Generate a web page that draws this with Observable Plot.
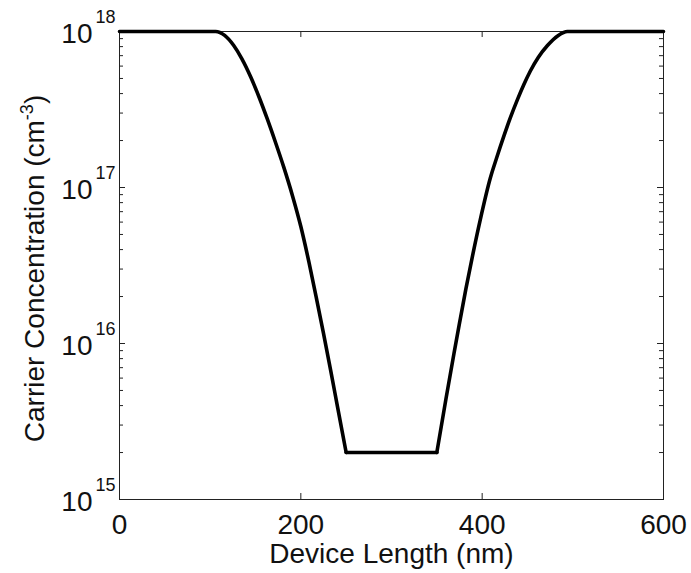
<!DOCTYPE html>
<html>
<head>
<meta charset="utf-8">
<script src="https://cdn.jsdelivr.net/npm/d3@7"></script>
<script src="https://cdn.jsdelivr.net/npm/@observablehq/plot@0.6"></script>
<style>
  html, body { margin: 0; padding: 0; background: #fff; }
  #chart { width: 691px; height: 573px; }
</style>
</head>
<body>
<div id="chart"></div>
<script>
// Device position (nm) and carrier concentration (cm^-3)
const positionNm = [0, 106, 116, 126, 135, 145, 154, 163, 172, 181, 191, 200, 209, 218, 225, 233, 240, 250,
                    350, 360, 369, 375, 382, 390, 398, 409, 416, 424, 431, 439, 446, 453, 462, 472, 484, 494, 600];
const concentration = [1e18, 1e18, 9.44e17, 8.13e17, 6.68e17, 5.07e17, 3.79e17, 2.75e17, 1.95e17, 1.36e17, 8.77e16, 5.62e16, 3.31e16, 1.85e16, 1.16e16, 6.68e15, 4.06e15, 2.0e15,
                       2.0e15, 4.39e15, 8.69e15, 1.35e16, 2.23e16, 3.8e16, 6.25e16, 1.15e17, 1.55e17, 2.14e17, 2.79e17, 3.67e17, 4.57e17, 5.56e17, 6.84e17, 8.13e17, 9.44e17, 1e18, 1e18];
// profile regions: source side, channel (flat), drain side
const regionBreaks = [250, 350];

const xTicks = [0, 200, 400, 600];
const xTickLabels = ["0", "200", "400", "600"];
const yMajorTicks = [1e15, 1e16, 1e17, 1e18];
const yTickBase = "10";
const yTickExponents = ["15", "16", "17", "18"];
const yMinorTicks = [1e15, 1e16, 1e17].flatMap(d => [2,3,4,5,6,7,8,9].map(m => m * d));
const xTitle = "Device Length (nm)";
const yTitleMain = "Carrier Concentration (cm";
const yTitleSup = "-3";
const yTitleEnd = ")";

const data = positionNm.map((x, i) => ({x, y: concentration[i]}));
// split into three segments (sharp corners at the channel edges)
const segments = [
  data.filter(d => d.x <= regionBreaks[0]).map(d => ({...d, s: "a"})),
  data.filter(d => d.x >= regionBreaks[0] && d.x <= regionBreaks[1]).map(d => ({...d, s: "b"})),
  data.filter(d => d.x >= regionBreaks[1]).map(d => ({...d, s: "c"}))
].flat();

const FONT = "'Liberation Sans', Arial, Helvetica, sans-serif";
const axisColor = "#222";

const svg = Plot.plot({
  width: 691,
  height: 573,
  marginLeft: 119,
  marginRight: 28,
  marginTop: 31,
  marginBottom: 74,
  style: {fontFamily: FONT, background: "#fff", overflow: "visible"},
  x: {domain: [0, 600], axis: null},
  y: {type: "log", domain: [1e15, 1e18], axis: null},
  marks: [
    Plot.frame({stroke: axisColor, strokeWidth: 1}),
    // inward ticks: x bottom & top
    Plot.ruleX(xTicks, {x: d => d, y1: 1e15, y2: 1e15, insetTop: -6, stroke: axisColor}),
    Plot.ruleX(xTicks, {x: d => d, y1: 1e18, y2: 1e18, insetBottom: -6, stroke: axisColor}),
    // inward ticks: y left & right (major)
    Plot.ruleY(yMajorTicks, {y: d => d, x1: 0, x2: 0, insetRight: -6, stroke: axisColor}),
    Plot.ruleY(yMajorTicks, {y: d => d, x1: 600, x2: 600, insetLeft: -6, stroke: axisColor}),
    // minor
    Plot.ruleY(yMinorTicks, {y: d => d, x1: 0, x2: 0, insetRight: -4, stroke: axisColor}),
    Plot.ruleY(yMinorTicks, {y: d => d, x1: 600, x2: 600, insetLeft: -4, stroke: axisColor}),
    // data line
    Plot.line(segments, {x: "x", y: "y", z: "s", curve: "monotone-x", stroke: "#000", strokeWidth: 3.6,
      strokeLinejoin: "round", strokeLinecap: "round"}),
    // x tick labels
    Plot.text(xTicks, {x: d => d, frameAnchor: "bottom", text: (d, i) => xTickLabels[i], textAnchor: "middle",
      lineAnchor: "bottom", dy: 34, fontSize: 28, fill: "#111"}),
    // y tick labels
    Plot.text(yMajorTicks, {y: d => d, frameAnchor: "left", text: () => yTickBase, textAnchor: "end",
      lineAnchor: "bottom", dx: -27, dy: 11, fontSize: 28, fill: "#111"}),
    Plot.text(yMajorTicks, {y: d => d, frameAnchor: "left", text: (d, i) => yTickExponents[i], textAnchor: "start",
      lineAnchor: "bottom", dx: -24, dy: -9, fontSize: 18, fill: "#111"}),
    // axis titles
    Plot.text([xTitle], {frameAnchor: "bottom", text: d => d, textAnchor: "middle", lineAnchor: "bottom",
      dy: 63, fontSize: 28, fill: "#111"}),
    Plot.text([yTitleMain], {frameAnchor: "left", text: d => d, textAnchor: "middle", lineAnchor: "bottom",
      rotate: -90, dx: -76, dy: 3, fontSize: 28, fill: "#111"})
  ]
});

// add superscript to y title
d3.select(svg).selectAll("text").filter(function() { return this.textContent === yTitleMain; })
  .each(function() {
    const t = d3.select(this);
    t.append("tspan").attr("dy", -11).attr("font-size", 18).text(yTitleSup);
    t.append("tspan").attr("dy", 11).attr("font-size", 28).text(yTitleEnd);
  });

document.getElementById("chart").appendChild(svg);
</script>
</body>
</html>
